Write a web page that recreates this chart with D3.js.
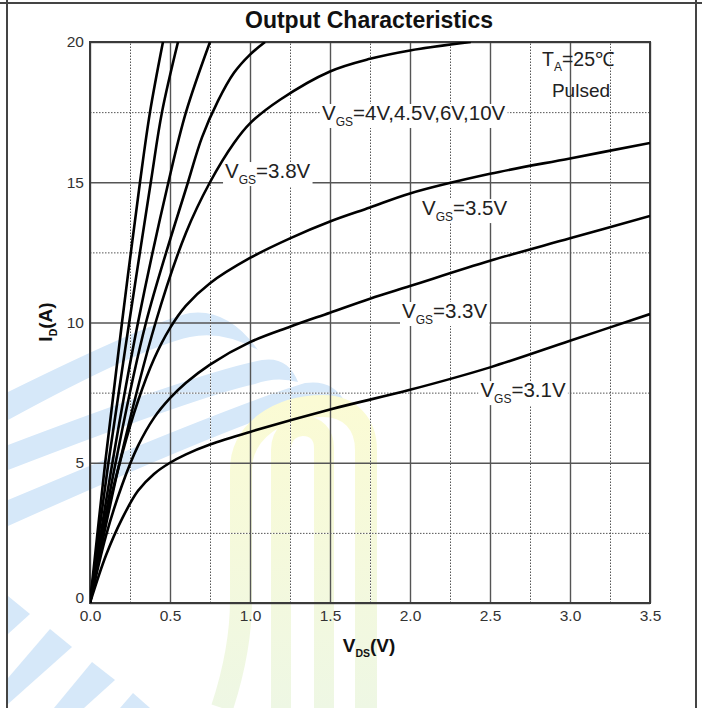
<!DOCTYPE html>
<html>
<head>
<meta charset="utf-8">
<script src="https://cdn.jsdelivr.net/npm/d3@7"></script>
<style>
  body { margin: 0; background: #fff; }
  svg { display: block; font-family: "Liberation Sans", Arial, sans-serif; }
</style>
</head>
<body>
<svg id="chart" width="702" height="708"></svg>
<script>
// data: each curve is [Vds, Id]
const curve10V  = [[0,0],[0.095,5],[0.2,10],[0.3125,15],[0.375,17.5],[0.456,20]];
const curve6V   = [[0,0],[0.115,5],[0.245,10],[0.38,15],[0.45,17.5],[0.55,20]];
const curve45V  = [[0,0],[0.14,5],[0.3,10],[0.49,15],[0.6,17.5],[0.75,20]];
const curve4V   = [[0,0],[0.16,5],[0.35,10],[0.6125,15],[0.7,16.6],[0.8,17.9],[0.9,18.9],[1.0,19.55],[1.094,20]];
const curve38V  = [[0,0],[0.185,5],[0.41,10],[0.6,13.2],[0.75,15.0],[0.9,16.4],[1.0,17.1],[1.19,17.95],[1.5,18.95],[1.75,19.4],[2.0,19.7],[2.38,20]];
const curve35V  = [[0,0],[0.1,3.0],[0.2,5.3],[0.3,7.2],[0.4,8.7],[0.5,9.8],[0.6,10.6],[0.75,11.4],[1.0,12.3],[1.25,13.0],[1.5,13.6],[1.75,14.1],[2.0,14.6],[2.5,15.3],[3.0,15.85],[3.5,16.4]];
const curve33V  = [[0,0],[0.1,2.4],[0.2,4.2],[0.3,5.6],[0.4,6.6],[0.5,7.3],[0.6,7.85],[0.75,8.5],[1.0,9.3],[1.25,9.85],[1.5,10.35],[1.75,10.85],[2.0,11.3],[2.5,12.2],[3.0,13.0],[3.5,13.8]];
const curve31V  = [[0,0],[0.1,1.7],[0.2,3.0],[0.3,4.0],[0.4,4.6],[0.5,5.0],[0.6,5.3],[0.75,5.65],[1.0,6.1],[1.5,6.9],[2.0,7.6],[2.5,8.4],[3.0,9.35],[3.5,10.3]];
const curves = [curve10V, curve6V, curve45V, curve4V, curve38V, curve35V, curve33V, curve31V];

const xMajor = [0, 0.5, 1.0, 1.5, 2.0, 2.5, 3.0, 3.5];
const xMinor = [0.25, 0.75, 1.25, 1.75, 2.25, 2.75, 3.25];
const yMajor = [0, 5, 10, 15, 20];
const yMinor = [2.5, 7.5, 12.5, 17.5];

// curve labels: [Vds, Id] of the text start, and the text after the subscript
const labelAt   = [[1.45, 17.22], [0.844, 15.15], [2.075, 13.83], [1.95, 10.16], [2.44, 7.34]];
const labelText = ["=4V,4.5V,6V,10V", "=3.8V", "=3.5V", "=3.3V", "=3.1V"];

const svg = d3.select('#chart');
const pL = 90, pR = 650, pT = 42, pB = 603;

const x = d3.scaleLinear().domain([0, 3.5]).range([pL, pR]);
const y = d3.scaleLinear().domain([0, 20]).range([pB, pT]);

// page frame
svg.append('line').attr('x1', 0).attr('x2', 702).attr('y1', 3).attr('y2', 3)
  .attr('stroke', '#444').attr('stroke-width', 2);
[7, 696].forEach(px => {
  svg.append('line').attr('x1', px).attr('x2', px).attr('y1', 0).attr('y2', 708)
    .attr('stroke', '#444').attr('stroke-width', 2);
});

// faint watermark in the background
const defs = svg.append('defs');
const grad = defs.append('linearGradient').attr('id', 'wm')
  .attr('gradientUnits', 'userSpaceOnUse').attr('x1', 0).attr('x2', 0).attr('y1', 400).attr('y2', 708);
grad.append('stop').attr('offset', '0%').attr('stop-color', '#fbfbd4');
grad.append('stop').attr('offset', '100%').attr('stop-color', '#eef7e4');

const wm = svg.append('g');
const blueBands = [
  'M8,392 Q150,322 190,313 Q228,308 258,350 Q222,330 190,337 Q140,348 8,420 Z',
  'M8,445 Q200,372 262,360 Q288,356 298,382 Q276,376 255,384 Q200,396 8,470 Z',
  'M8,500 Q240,402 305,383 Q333,379 345,402 Q322,398 300,406 Q240,422 8,526 Z',
  'M8,596 L30,614 L8,634 Z',
  'M8,678 L50,629 L72,647 L8,704 Z',
  'M54,708 L92,662 L115,680 L84,708 Z',
  'M120,708 L133,693 L150,708 Z'
];
wm.selectAll('path.band').data(blueBands).join('path')
  .attr('class', 'band').attr('d', d => d).attr('fill', '#d6e8f9');
wm.append('path')
  .attr('d', 'M222,708 Q241,650 241,600 V470 C241,430 280,406 323,406 C350,406 366,424 366,450 V708')
  .attr('fill', 'none').attr('stroke', 'url(#wm)').attr('stroke-width', 22);
wm.append('path')
  .attr('d', 'M281,708 V450 C281,432 294,426 303,426 C316,426 324,434 324,448 V708')
  .attr('fill', 'none').attr('stroke', 'url(#wm)').attr('stroke-width', 20);

// grid: minor dotted lines (white underneath so the gaps show)
const h = pB - pT, w = pR - pL;
function grid(axis, transform) {
  const g = svg.append('g').attr('transform', transform).call(axis);
  g.select('.domain').remove();
  return g;
}
[['#fff', null], ['#555', '1.5,1.5']].forEach(([col, dash]) => {
  const gx = grid(d3.axisBottom(x).tickValues(xMinor).tickSize(-h).tickFormat(''), `translate(0,${pB})`);
  const gy = grid(d3.axisLeft(y).tickValues(yMinor).tickSize(-w).tickFormat(''), `translate(${pL},0)`);
  [gx, gy].forEach(g => g.selectAll('line')
    .attr('stroke', col).attr('stroke-width', 1).attr('stroke-dasharray', dash));
});
const gxM = grid(d3.axisBottom(x).tickValues(xMajor).tickSize(-h).tickFormat(''), `translate(0,${pB})`);
const gyM = grid(d3.axisLeft(y).tickValues(yMajor).tickSize(-w).tickFormat(''), `translate(${pL},0)`);
[gxM, gyM].forEach(g => g.selectAll('line').attr('stroke', '#555').attr('stroke-width', 1.4));

svg.append('rect').attr('x', pL).attr('y', pT).attr('width', w).attr('height', h)
  .attr('fill', 'none').attr('stroke', '#3a3a3a').attr('stroke-width', 2);

// tick labels
const xLab = svg.append('g').attr('transform', `translate(0,${pB + 4})`)
  .call(d3.axisBottom(x).tickValues(xMajor).tickSize(0).tickFormat(d3.format('.1f')));
const yLab = svg.append('g').attr('transform', `translate(${pL - 3},0)`)
  .call(d3.axisLeft(y).tickValues(yMajor).tickSize(0));
[xLab, yLab].forEach(g => {
  g.select('.domain').remove();
  g.selectAll('text').attr('font-family', '"Liberation Sans", Arial, sans-serif')
    .attr('font-size', 15.5).attr('fill', '#333');
});
// the "0" sits a little above the axis, touching "0.0" as in the original
yLab.selectAll('.tick').filter(d => d === 0).select('text').attr('dy', '-0.05em');

// curves
defs.append('clipPath').attr('id', 'plot').append('rect')
  .attr('x', pL).attr('y', pT).attr('width', w).attr('height', h);
const line = d3.line().x(d => x(d[0])).y(d => y(d[1])).curve(d3.curveCatmullRom.alpha(0.5));
svg.append('g').attr('clip-path', 'url(#plot)')
  .selectAll('path').data(curves).join('path')
  .attr('d', line).attr('fill', 'none').attr('stroke', '#000').attr('stroke-width', 2.6);

// curve labels with white boxes over the grid
labelAt.forEach((p, i) => {
  const g = svg.append('g');
  const box = g.append('rect').attr('fill', '#fff');
  const t = g.append('text').attr('x', x(p[0])).attr('y', y(p[1]))
    .attr('font-size', 20.5).attr('fill', '#222');
  t.append('tspan').text('V');
  t.append('tspan').attr('font-size', 12).attr('dy', 6).text('GS');
  t.append('tspan').attr('dy', -6).text(labelText[i]);
  const b = t.node().getBBox();
  box.attr('x', b.x - 2).attr('y', b.y + 3).attr('width', b.width + 4).attr('height', b.height - 4);
});

// T_A note
const ta = svg.append('text').attr('x', 578).attr('y', 66).attr('text-anchor', 'middle')
  .attr('font-size', 19.5).attr('fill', '#222');
ta.append('tspan').text('T');
ta.append('tspan').attr('font-size', 12).attr('dy', 5).text('A');
ta.append('tspan').attr('dy', -5).text('=25℃');
svg.append('text').attr('x', 581).attr('y', 97).attr('text-anchor', 'middle')
  .attr('font-size', 19).attr('fill', '#222').text('Pulsed');

// title and axis titles
svg.append('text').attr('x', 369).attr('y', 28).attr('text-anchor', 'middle')
  .attr('font-size', 23).attr('font-weight', 'bold').attr('fill', '#111')
  .text('Output Characteristics');

const xt = svg.append('text').attr('x', 369).attr('y', 652).attr('text-anchor', 'middle')
  .attr('font-size', 19).attr('font-weight', 'bold').attr('fill', '#111');
xt.append('tspan').text('V');
xt.append('tspan').attr('font-size', 10.5).attr('dy', 5).text('DS');
xt.append('tspan').attr('dy', -5).text('(V)');

const yt = svg.append('text').attr('transform', 'translate(52,322) rotate(-90)')
  .attr('text-anchor', 'middle')
  .attr('font-size', 19).attr('font-weight', 'bold').attr('fill', '#111');
yt.append('tspan').text('I');
yt.append('tspan').attr('font-size', 10.5).attr('dy', 5).text('D');
yt.append('tspan').attr('dy', -5).text('(A)');
</script>
</body>
</html>
